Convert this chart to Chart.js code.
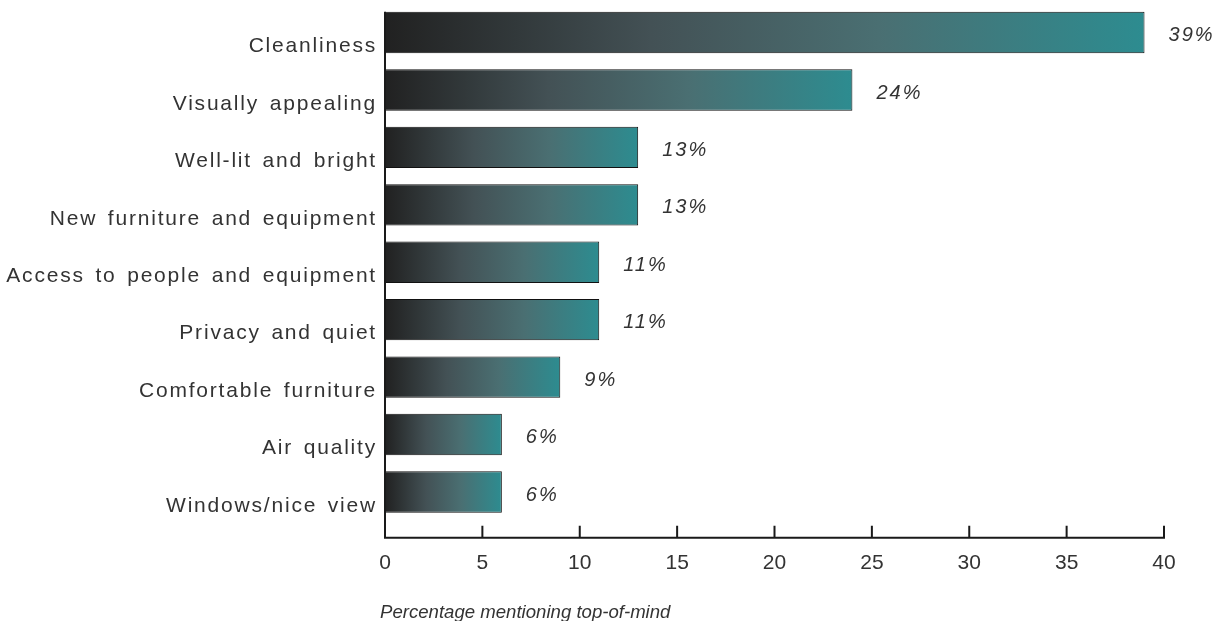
<!DOCTYPE html>
<html lang="en">
<head>
    <meta charset="UTF-8">
    <title>Top-of-mind workspace qualities</title>
    <script src="https://cdn.jsdelivr.net/npm/chart.js"></script>
<style>
    html, body {
        margin: 0;
        padding: 0;
        background-color: #ffffff;
    }
    #mentionChart {
        display: block;
    }
</style>
</head>
<body>
    <canvas id="mentionChart" width="1230" height="621"></canvas>

    <script>
        // Qualities people mention first, and the share mentioning each
        const categories = [
            'Cleanliness',
            'Visually appealing',
            'Well-lit and bright',
            'New furniture and equipment',
            'Access to people and equipment',
            'Privacy and quiet',
            'Comfortable furniture',
            'Air quality',
            'Windows/nice view'
        ];
        const percentages = [39, 24, 13, 13, 11, 11, 9, 6, 6];
        const xTickValues = [0, 5, 10, 15, 20, 25, 30, 35, 40];
        const axisTitle = 'Percentage mentioning top-of-mind';

        const textColor = '#333333';
        const axisColor = '#1a1a1a';
        const labelFont = '"Liberation Sans", Arial, sans-serif';

        // each bar fades from near-black at zero to teal at its own end
        function barFill(context) {
            const chart = context.chart;
            const xScale = chart.scales.x;
            if (!chart.chartArea || !xScale) return '#2e8c90';
            const x0 = xScale.getPixelForValue(0);
            const x1 = xScale.getPixelForValue(percentages[context.dataIndex]);
            const g = chart.ctx.createLinearGradient(x0, 0, x1, 0);
            g.addColorStop(0, '#212121');
            g.addColorStop(0.35, '#435155');
            g.addColorStop(0.65, '#4a6f72');
            g.addColorStop(1, '#2d8c90');
            return g;
        }

        // spaced-out lettering for the category names
        const spacedLabels = {
            id: 'spacedLabels',
            beforeDraw(chart) {
                chart.ctx.letterSpacing = '1.8px';
                chart.ctx.wordSpacing = '3px';
            },
            beforeDatasetsDraw(chart) {
                chart.ctx.letterSpacing = '0px';
                chart.ctx.wordSpacing = '0px';
            }
        };

        // percentage labels to the right of each bar
        const valueLabels = {
            id: 'valueLabels',
            afterDatasetsDraw(chart) {
                const c = chart.ctx;
                const meta = chart.getDatasetMeta(0);
                c.save();
                c.font = 'italic 20px ' + labelFont;
                c.fillStyle = textColor;
                c.letterSpacing = '2px';
                c.textAlign = 'left';
                c.textBaseline = 'middle';
                meta.data.forEach((bar, i) => {
                    c.fillText(percentages[i] + '%', bar.x + 24, bar.y + 3);
                });
                c.restore();
            }
        };

        // axis lines, inward ticks, tick numbers and the axis title
        const axisLines = {
            id: 'axisLines',
            afterDraw(chart) {
                const c = chart.ctx;
                const xScale = chart.scales.x;
                const area = chart.chartArea;
                const first = chart.getDatasetMeta(0).data[0];
                const axisY = area.bottom + 17;
                const left = xScale.getPixelForValue(0);
                const right = xScale.getPixelForValue(xTickValues[xTickValues.length - 1]);

                c.save();
                c.strokeStyle = axisColor;
                c.lineWidth = 2;
                c.beginPath();
                c.moveTo(left, first.y - first.height / 2);
                c.lineTo(left, axisY + 1);
                c.moveTo(left - 1, axisY);
                c.lineTo(right + 1, axisY);
                xScale.ticks.forEach(t => {
                    const px = xScale.getPixelForValue(t.value);
                    c.moveTo(px, axisY);
                    c.lineTo(px, axisY - 12);
                });
                c.stroke();

                c.fillStyle = textColor;
                c.font = '21px ' + labelFont;
                c.textAlign = 'center';
                c.textBaseline = 'middle';
                xScale.ticks.forEach(t => {
                    c.fillText(String(t.value), xScale.getPixelForValue(t.value), axisY + 26);
                });

                c.font = 'italic 18.6px ' + labelFont;
                c.textAlign = 'left';
                c.textBaseline = 'alphabetic';
                c.fillText(axisTitle, 380, 618);
                c.restore();
            }
        };

        const ctx = document.getElementById('mentionChart').getContext('2d');
        new Chart(ctx, {
            type: 'bar',
            data: {
                labels: categories,
                datasets: [{
                    data: percentages,
                    backgroundColor: barFill,
                    borderColor: '#111111',
                    borderWidth: 1,
                    borderSkipped: false,
                    categoryPercentage: 1,
                    barPercentage: 0.72
                }]
            },
            options: {
                indexAxis: 'y',
                responsive: false,
                animation: false,
                layout: {
                    padding: { top: 3.8, right: 66, bottom: 100.3, left: 0 }
                },
                plugins: {
                    legend: { display: false },
                    tooltip: { enabled: false }
                },
                scales: {
                    x: {
                        display: false,
                        min: 0,
                        max: 40,
                        afterBuildTicks(scale) {
                            scale.ticks = xTickValues.map(v => ({ value: v }));
                        }
                    },
                    y: {
                        grid: { display: false, drawTicks: false },
                        border: { display: false },
                        ticks: {
                            color: textColor,
                            font: { family: labelFont, size: 21 },
                            padding: 8,
                            labelOffset: 14
                        },
                        afterFit(scale) {
                            scale.width = 385;
                            scale.paddingTop = 0;
                            scale.paddingBottom = 0;
                        }
                    }
                }
            },
            plugins: [spacedLabels, valueLabels, axisLines]
        });
    </script>
</body>
</html>
